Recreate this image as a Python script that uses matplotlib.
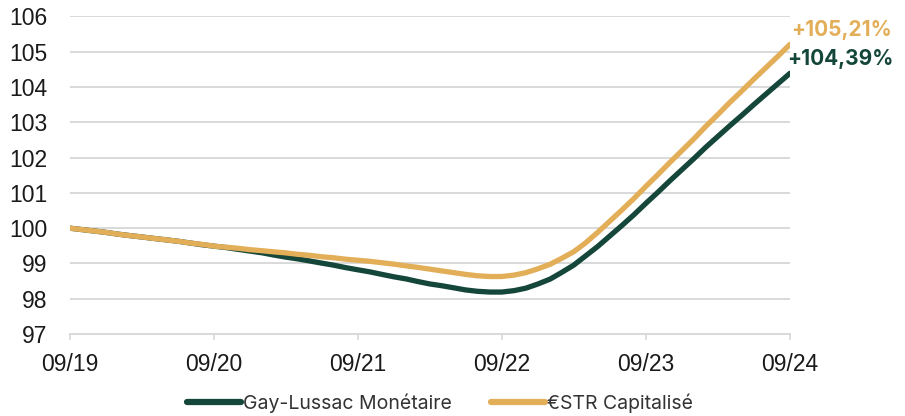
import matplotlib.pyplot as plt
import matplotlib.dates as mdates
import pandas as pd

# Données mensuelles (base 100 en 09/2019)
dates = pd.date_range('2019-09-30', periods=61, freq='ME')
gay_lussac = [100.00, 99.96, 99.92, 99.88, 99.83, 99.79, 99.75, 99.71, 99.67, 99.63,
              99.58, 99.53, 99.49, 99.45, 99.40, 99.35, 99.30, 99.24, 99.18, 99.13,
              99.07, 99.01, 98.95, 98.88, 98.82, 98.76, 98.69, 98.62, 98.56, 98.49,
              98.42, 98.37, 98.31, 98.25, 98.21, 98.19, 98.19, 98.23, 98.30, 98.42,
              98.56, 98.74, 98.95, 99.21, 99.48, 99.77, 100.07, 100.38, 100.70, 101.02,
              101.34, 101.66, 101.98, 102.29, 102.60, 102.90, 103.20, 103.50, 103.80, 104.10,
              104.39]
estr = [100.00, 99.96, 99.92, 99.88, 99.83, 99.79, 99.75, 99.71, 99.67, 99.63,
        99.58, 99.54, 99.49, 99.46, 99.43, 99.39, 99.36, 99.33, 99.30, 99.26,
        99.23, 99.19, 99.16, 99.12, 99.09, 99.06, 99.02, 98.98, 98.93, 98.89,
        98.84, 98.79, 98.74, 98.69, 98.65, 98.63, 98.63, 98.67, 98.74, 98.85,
        98.98, 99.14, 99.33, 99.58, 99.88, 100.19, 100.51, 100.84, 101.18, 101.52,
        101.86, 102.20, 102.54, 102.88, 103.22, 103.56, 103.89, 104.22, 104.55, 104.88,
        105.21]
labels = ['Gay-Lussac Monétaire', '€STR Capitalisé']
perf = ['+104,39%', '+105,21%']

vert = '#15463a'
or_ = '#e3ae58'

fig = plt.figure(figsize=(9.05, 4.16), dpi=100)
ax = fig.add_axes([0.077, 0.197, 0.796, 0.7636])

ax.plot(dates, gay_lussac, color=vert, lw=3.8, label=labels[0], solid_capstyle='round', zorder=3)
ax.plot(dates, estr, color=or_, lw=3.8, label=labels[1], solid_capstyle='round', zorder=3)

ax.set_ylim(97, 106)
ax.set_yticks(range(97, 107))
ax.set_xlim(dates[0], dates[-1])
ax.set_xticks(dates[::12])
ax.xaxis.set_major_formatter(mdates.DateFormatter('%m/%y'))

ax.grid(axis='y', color='#d9d9d9', lw=1.4)
ax.set_axisbelow(True)
for s in ['top', 'right', 'left']:
    ax.spines[s].set_visible(False)
ax.spines['bottom'].set_color('#d9d9d9')
ax.spines['bottom'].set_linewidth(1.4)
ax.tick_params(axis='y', length=0, labelsize=16.5, pad=16)
ax.tick_params(axis='x', length=4.5, color='#d9d9d9', width=1.2, labelsize=16.5, pad=9)
for t in ax.get_xticklabels() + ax.get_yticklabels():
    t.set_fontfamily('Liberation Sans')
    t.set_color('#1a1a1a')

# Performances finales
ax.annotate(perf[1], (dates[-1], estr[-1]), xytext=(1, 3), textcoords='offset points',
            color=or_, fontsize=15, fontweight='bold', family='Inter', va='bottom', ha='left',
            annotation_clip=False)
ax.annotate(perf[0], (dates[-1], gay_lussac[-1]), xytext=(-2, 3), textcoords='offset points',
            color=vert, fontsize=15, fontweight='bold', family='Inter', va='bottom', ha='left',
            annotation_clip=False)

leg = fig.legend(loc='center', bbox_to_anchor=(0.486, 0.031), ncol=2, frameon=False,
                 handlelength=2.8, handletextpad=0.1, columnspacing=2.0,
                 prop={'family': 'Inter', 'size': 14})
for h in leg.get_lines():
    h.set_linewidth(4.5)
for t in leg.get_texts():
    t.set_color('#333333')

plt.savefig('out.png', dpi=100)
